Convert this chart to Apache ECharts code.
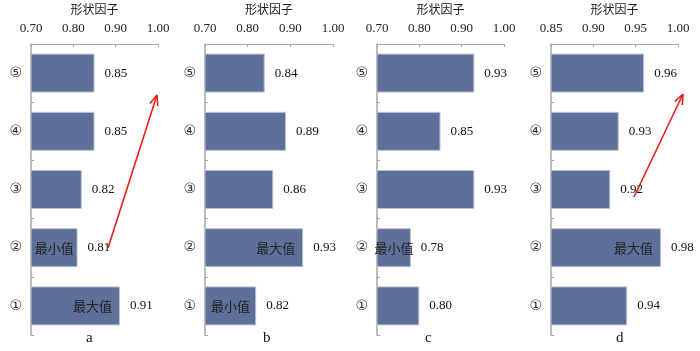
<!DOCTYPE html>
<html><head><meta charset="utf-8">
<script src="https://cdn.jsdelivr.net/npm/echarts@6/dist/echarts.min.js"></script>
<style>html,body{margin:0;padding:0;background:#fff}#c{width:700px;height:351px}</style>
</head><body><div id="c"></div>
<script>
var categories = ['①','②','③','④','⑤'];
var panelNames = ['a','b','c','d'];
var valuesA = [0.91, 0.81, 0.82, 0.85, 0.85];
var valuesB = [0.82, 0.93, 0.86, 0.89, 0.84];
var valuesC = [0.80, 0.78, 0.93, 0.85, 0.93];
var valuesD = [0.94, 0.98, 0.92, 0.93, 0.96];
var axisMin = [0.70, 0.70, 0.70, 0.85];
var axisMax = [1.00, 1.00, 1.00, 1.00];
var axisInterval = [0.10, 0.10, 0.10, 0.05];
var notesA = ['最大值', '最小值', '', '', ''];
var notesB = ['最小值', '最大值', '', '', ''];
var notesC = ['', '最小值', '', '', ''];
var notesD = ['', '最大值', '', '', ''];

var allValues = [valuesA, valuesB, valuesC, valuesD];
var allNotes = [notesA, notesB, notesC, notesD];

var FONT = "'Liberation Serif','Noto Sans CJK SC',serif";
var gridLeft = [31, 205, 377, 551];
var gridWidth = [127, 128, 127, 127];
var labelX = [90, 267, 429, 620];

var grids = [], xAxes = [], yAxes = [], series = [], graphics = [];
for (var i = 0; i < 4; i++) {
  grids.push({left: gridLeft[i], width: gridWidth[i], top: 43, height: 292, containLabel: false});
  xAxes.push({
    type: 'value', gridIndex: i, position: 'top', min: axisMin[i], max: axisMax[i], interval: axisInterval[i],
    name: '形状因子', nameLocation: 'middle', nameGap: 27,
    nameTextStyle: {fontFamily: FONT, fontSize: 12, color: '#222'},
    axisLine: {show: true, lineStyle: {color: '#a8a4a4', width: 1}},
    axisTick: {show: true, inside: true, length: 3, lineStyle: {color: '#a8a4a4'}},
    axisLabel: {fontFamily: FONT, fontSize: 13, color: '#222', margin: 9,
      formatter: function (v) { return v.toFixed(2); }},
    splitLine: {show: false}
  });
  yAxes.push({
    type: 'category', gridIndex: i, data: categories,
    axisLine: {show: true, lineStyle: {color: '#a8a4a4', width: 1.5}},
    axisTick: {show: true, inside: true, length: 3, lineStyle: {color: '#a8a4a4'}},
    axisLabel: {fontFamily: "'DejaVu Sans','Noto Sans CJK SC'", fontSize: 14, color: '#333', margin: 9}
  });
  (function (idx) {
    series.push({
      type: 'bar', xAxisIndex: idx, yAxisIndex: idx, data: allValues[idx], barWidth: 39, barGap: '-100%',
      itemStyle: {color: '#5e7099', borderColor: '#b9c3d8', borderWidth: 1},
      label: {show: true, position: 'right', distance: 10, fontFamily: FONT, fontSize: 13, color: '#111',
        formatter: function (p) { return p.value.toFixed(2); }},
      silent: true, z: 2
    });
    var notes = allNotes[idx];
    series.push({
      type: 'bar', xAxisIndex: idx, yAxisIndex: idx, barWidth: 39, barGap: '-100%',
      data: allValues[idx].map(function (v, k) {
        var t = notes[k];
        var lab = {show: t !== '', formatter: t, fontFamily: "'Noto Sans CJK SC'", fontSize: 13, color: '#222'};
        if (t === '最大值') { lab.position = 'insideRight'; lab.distance = 8; }
        else { lab.position = 'inside'; }
        return {value: v, label: lab};
      }),
      itemStyle: {color: 'rgba(0,0,0,0)'},
      silent: true, z: 3
    });
  })(i);
  graphics.push({type: 'text', left: labelX[i] - 4, top: 331,
    style: {text: panelNames[i], font: '15px ' + FONT, fill: '#111'}});
}

function arrow(x1, y1, x2, y2) {
  var dx = x2 - x1, dy = y2 - y1, L = Math.sqrt(dx * dx + dy * dy);
  var ux = dx / L, uy = dy / L, h = 11, a = 0.38;
  var c = Math.cos(a), s = Math.sin(a);
  var r1x = ux * c - uy * s, r1y = ux * s + uy * c;
  var r2x = ux * c + uy * s, r2y = -ux * s + uy * c;
  var st = {stroke: '#e8201c', lineWidth: 1.6};
  return [
    {type: 'line', shape: {x1: x1, y1: y1, x2: x2, y2: y2}, style: st, z: 100},
    {type: 'line', shape: {x1: x2, y1: y2, x2: x2 - h * r1x, y2: y2 - h * r1y}, style: st, z: 100},
    {type: 'line', shape: {x1: x2, y1: y2, x2: x2 - h * r2x, y2: y2 - h * r2y}, style: st, z: 100}
  ];
}
graphics = graphics.concat(arrow(108, 248, 157, 95)).concat(arrow(634, 197, 683, 94));

var chart = echarts.init(document.getElementById('c'), null, {renderer: 'canvas'});
chart.setOption({
  animation: false,
  grid: grids, xAxis: xAxes, yAxis: yAxes, series: series, graphic: graphics
});
</script></body></html>
